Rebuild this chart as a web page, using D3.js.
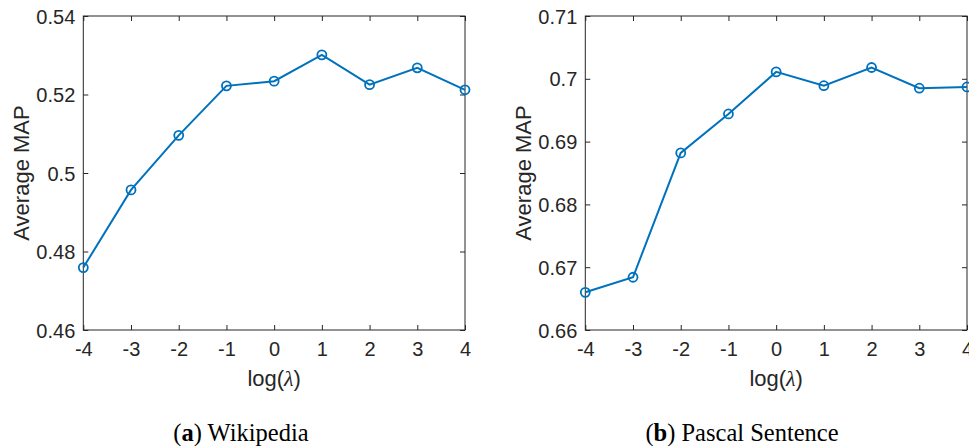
<!DOCTYPE html>
<html><head><meta charset="utf-8">
<script src="https://cdn.jsdelivr.net/npm/d3@7"></script>
<style>
html,body{margin:0;padding:0;background:#fff;}
svg{display:block;}
</style></head>
<body>
<svg id="chart" width="969" height="446"></svg>
<script>
const lambdas = [-4, -3, -2, -1, 0, 1, 2, 3, 4];
const wikipediaMAP = [0.4759, 0.4957, 0.5096, 0.5222, 0.5234, 0.5301, 0.5225, 0.5268, 0.5212];
const pascalMAP = [0.6660, 0.6684, 0.6882, 0.6944, 0.7011, 0.6989, 0.7018, 0.6985, 0.6987];
const wikiTicks = [0.46, 0.48, 0.5, 0.52, 0.54];
const pascalTicks = [0.66, 0.67, 0.68, 0.69, 0.7, 0.71];
const xTicks = [-4, -3, -2, -1, 0, 1, 2, 3, 4];
const captions = [["a", " Wikipedia"], ["b", " Pascal Sentence"]];

const svg = d3.select("#chart");
const axisColor = "#262626";
const lineColor = "#0072BD";
const sans = "'Liberation Sans', Arial, Helvetica, sans-serif";
const serif = "'Liberation Serif', 'Times New Roman', Times, serif";

function panel(opts) {
  const {left, right, top, bottom, values, yTicks, yDomain, yLabelX, caption, captionX} = opts;
  const x = d3.scaleLinear().domain([-4, 4]).range([left, right]);
  const y = d3.scaleLinear().domain(yDomain).range([bottom, top]);
  const g = svg.append("g");

  g.append("rect").attr("x", left).attr("y", top)
    .attr("width", right - left).attr("height", bottom - top)
    .attr("fill", "none").attr("stroke", axisColor).attr("stroke-width", 1);

  const tl = 5;
  const xb = g.append("g").attr("transform", `translate(0,${bottom})`)
    .call(d3.axisBottom(x).tickValues(xTicks).tickSize(-tl).tickPadding(12).tickFormat(d => String(d)));
  const xt = g.append("g").attr("transform", `translate(0,${top})`)
    .call(d3.axisTop(x).tickValues(xTicks).tickSize(-tl).tickFormat(""));
  const yl = g.append("g").attr("transform", `translate(${left},0)`)
    .call(d3.axisLeft(y).tickValues(yTicks).tickSize(-tl).tickPadding(8).tickFormat(d => String(+d.toFixed(2))));
  const yr = g.append("g").attr("transform", `translate(${right},0)`)
    .call(d3.axisRight(y).tickValues(yTicks).tickSize(-tl).tickFormat(""));

  [xb, xt, yl, yr].forEach(a => {
    a.select(".domain").remove();
    a.selectAll("line").attr("stroke", axisColor).attr("stroke-width", 1);
    a.selectAll("text").attr("fill", axisColor).attr("font-family", sans).attr("font-size", 20);
  });
  xb.selectAll("text").attr("dy", "0.71em");
  yl.selectAll("text").attr("dy", "0.35em");

  const xl = g.append("text").attr("x", (left + right) / 2).attr("y", 386)
    .attr("text-anchor", "middle").attr("font-family", sans).attr("font-size", 22).attr("fill", axisColor);
  xl.append("tspan").text("log(");
  xl.append("tspan").attr("font-style", "italic").attr("font-family", serif).text("λ");
  xl.append("tspan").text(")");

  g.append("text").attr("transform", `translate(${yLabelX},${(top + bottom) / 2}) rotate(-90)`)
    .attr("text-anchor", "middle").attr("font-family", sans).attr("font-size", 22).attr("fill", axisColor)
    .text("Average MAP");

  const data = lambdas.map((l, i) => [l, values[i]]);
  g.append("path").datum(data)
    .attr("d", d3.line().x(d => x(d[0])).y(d => y(d[1])))
    .attr("fill", "none").attr("stroke", lineColor).attr("stroke-width", 2);
  g.selectAll("circle.pt").data(data).enter().append("circle")
    .attr("cx", d => x(d[0])).attr("cy", d => y(d[1])).attr("r", 4.5)
    .attr("fill", "none").attr("stroke", lineColor).attr("stroke-width", 1.8);

  const c = g.append("text").attr("x", captionX).attr("y", 441)
    .attr("text-anchor", "middle").attr("font-family", serif).attr("font-size", 24.5).attr("fill", "#000");
  c.append("tspan").text("(");
  c.append("tspan").attr("font-weight", "bold").text(caption[0]);
  c.append("tspan").text(")" + caption[1]);
}

panel({left: 83.3, right: 465, top: 16, bottom: 330, values: wikipediaMAP, yTicks: wikiTicks,
  yDomain: [0.46, 0.54], yLabelX: 29, caption: captions[0], captionX: 241});
panel({left: 585.3, right: 967, top: 16, bottom: 330, values: pascalMAP, yTicks: pascalTicks,
  yDomain: [0.66, 0.71], yLabelX: 531, caption: captions[1], captionX: 742});
</script>
</body></html>
